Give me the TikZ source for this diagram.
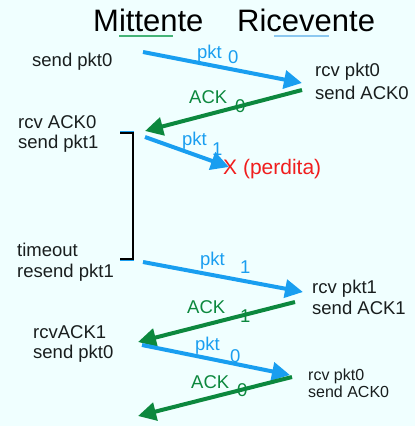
\documentclass[tikz,border=0pt]{standalone}
\usepackage{fontspec}
\setmainfont{Liberation Sans}
\usetikzlibrary{arrows.meta}
\definecolor{bgc}{RGB}{240,255,255}
\definecolor{pblue}{RGB}{25,158,240}
\definecolor{agreen}{RGB}{12,136,62}
\definecolor{lred}{RGB}{240,30,30}
\definecolor{txt}{RGB}{25,30,30}
\definecolor{ulgreen}{RGB}{70,180,120}
\definecolor{ulblue}{RGB}{140,200,240}
\tikzset{
  lbl/.style={inner sep=0pt, anchor=base west, text=txt, font=\fontsize{18.5}{22}\selectfont},
  small/.style={lbl, font=\fontsize{16}{19}\selectfont},
  title/.style={inner sep=0pt, anchor=base west, text=black, font=\fontsize{31}{35}\selectfont},
  plbl/.style={lbl, text=pblue},
  albl/.style={lbl, text=agreen},
  pktarrow/.style={draw=pblue, line width=4pt, -{Triangle[length=18pt,width=18pt]}},
  ackarrow/.style={draw=agreen, line width=4pt, -{Triangle[length=18pt,width=18pt]}},
}
\begin{document}
\begin{tikzpicture}[x=1pt,y=-1pt]
\fill[bgc] (0,0) rectangle (415,426);
\useasboundingbox (0,0) rectangle (415,426);
% titles
\node[title] (mitt) at (93,31) {Mittente};
\node[title] (ric) at (237,31) {Ricevente};
\draw[ulgreen, line width=1.2pt] (119,36) -- (173,36);
\draw[ulblue, line width=1.2pt] (274,36) -- (329,36);
% sender texts
\node[lbl] (s1) at (32,66) {send pkt0};
\node[lbl] (s2a) at (18,128) {rcv ACK0};
\node[lbl] (s2b) at (18,148) {send pkt1};
\node[lbl] (s3a) at (17,256) {timeout};
\node[lbl] (s3b) at (17,277) {resend pkt1};
\node[lbl] (s4a) at (33,338) {rcvACK1};
\node[lbl] (s4b) at (33,358) {send pkt0};
% receiver texts
\node[lbl] (r1a) at (315,76) {rcv pkt0};
\node[lbl] (r1b) at (315,99) {send ACK0};
\node[lbl] (r2a) at (312,293) {rcv pkt1};
\node[lbl] (r2b) at (312,314) {send ACK1};
\node[small] (r3a) at (308,380) {rcv pkt0};
\node[small] (r3b) at (308,397) {send ACK0};
% loss
\node[lbl, text=lred, font=\fontsize{21}{24}\selectfont] (lost) at (223,174) {X (perdita)};
% arrow endpoints
\coordinate (a1s) at (143,52);  \coordinate (a1e) at (302,83);
\coordinate (a2s) at (302,90);  \coordinate (a2e) at (145,131);
\coordinate (a3s) at (145,137); \coordinate (a3e) at (229,167);
\coordinate (a4s) at (143,262); \coordinate (a4e) at (303,292);
\coordinate (a5s) at (295,302); \coordinate (a5e) at (138,342);
\coordinate (a6s) at (142,345); \coordinate (a6e) at (290,375);
\coordinate (a7s) at (292,377); \coordinate (a7e) at (138,416);
\draw[pktarrow] (a1s) -- (a1e);
\draw[ackarrow] (a2s) -- (a2e);
\draw[pktarrow] (a3s) -- (a3e);
\draw[pktarrow] (a4s) -- (a4e);
\draw[ackarrow] (a5s) -- (a5e);
\draw[pktarrow] (a6s) -- (a6e);
\draw[ackarrow] (a7s) -- (a7e);
% arrow labels
\node[plbl] (l1) at (197,58) {pkt};   \node[plbl] (l1s) at (228,63) {0};
\node[albl] (l2) at (189,103) {ACK};  \node[albl] (l2s) at (235,112) {0};
\node[plbl] (l3) at (182,145) {pkt};  \node[plbl] (l3s) at (212,155) {1};
\node[plbl] (l4) at (200,265) {pkt};  \node[plbl] (l4s) at (240,273) {1};
\node[albl] (l5) at (187,313) {ACK};  \node[albl] (l5s) at (240,322) {1};
\node[plbl] (l6) at (195,350) {pkt};  \node[plbl] (l6s) at (230,362) {0};
\node[albl] (l7) at (191,388) {ACK};  \node[albl] (l7s) at (237,396) {0};
% timeout bracket
\coordinate (bt) at (120,133); \coordinate (bb) at (120,259);
\draw[pblue, line width=1pt] (120,131.2) -- (134,131.2);
\draw[pblue, line width=1pt] (120,260.8) -- (134,260.8);
\draw[black, line width=2.6pt] (bt) -- (133,133) -- (133,259) -- (bb);
\end{tikzpicture}
\end{document}
